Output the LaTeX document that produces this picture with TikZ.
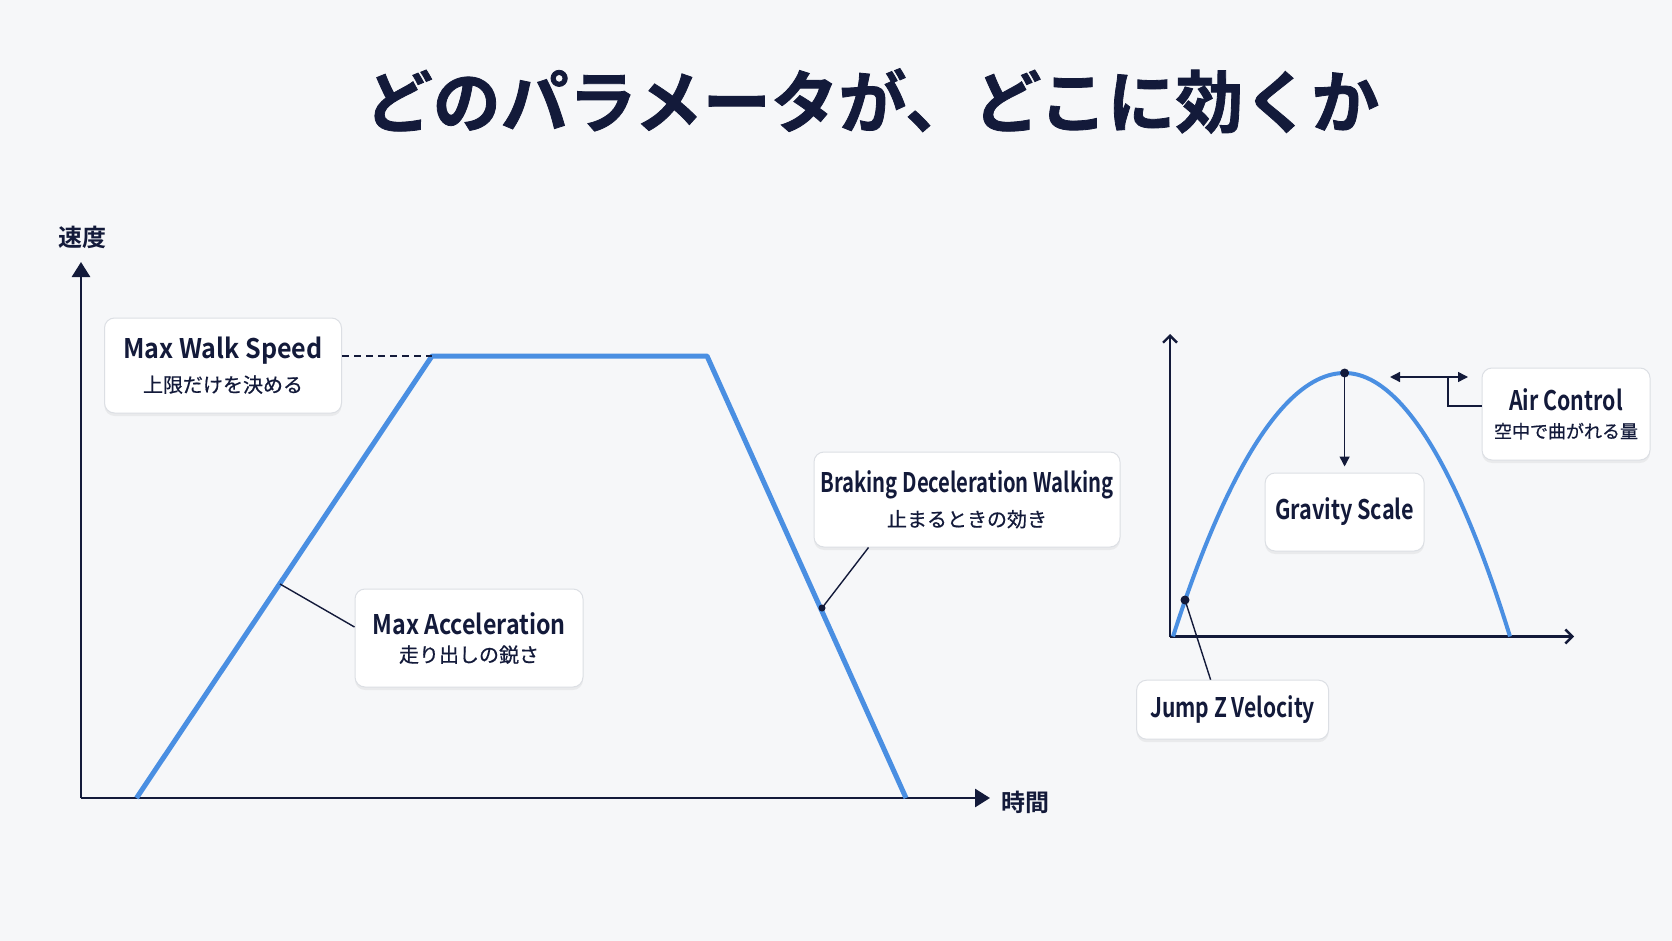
\documentclass[tikz,border=0pt]{standalone}
\usepackage{graphicx}
\usepackage{fontspec}
\setmainfont{Noto Sans CJK JP}[BoldFont={Noto Sans CJK JP Bold}]
\newfontfamily\jpmed{Noto Sans CJK JP}[FakeBold=0.6]
\newfontfamily\titlefont{Noto Sans CJK JP Bold}[FakeBold=1.2]
\usetikzlibrary{arrows.meta,shadows}
\definecolor{navy}{HTML}{131A3A}
\definecolor{bg}{HTML}{F6F7F9}
\definecolor{lineblue}{HTML}{4A8FE2}
\definecolor{boxborder}{HTML}{DCDFE4}
\tikzset{
  lbl/.style={draw=boxborder, line width=1pt, fill=white, rounded corners=10pt,
    drop shadow={opacity=0.10, shadow xshift=0pt, shadow yshift=-3pt},
    align=center, text=navy, inner sep=0pt},
  axisline/.style={draw=navy, line width=2.8pt},
  thinaxis/.style={draw=navy, line width=2.4pt, -{Straight Barb[length=7pt,width=14pt]}},
  conn/.style={draw=navy, line width=1.4pt},
  curve/.style={draw=lineblue, line width=5pt, line join=round},
}
\newcommand{\en}[2]{\scalebox{#1}[1]{\fontsize{27}{30}\selectfont\bfseries #2}}
\newcommand{\jp}[1]{\fontsize{20}{24}\selectfont\jpmed #1}
\newcommand{\jps}[1]{\fontsize{18}{22}\selectfont\jpmed #1}
\begin{document}
\begin{tikzpicture}[x=1pt,y=-1pt]
\fill[bg] (0,0) rectangle (1672,941);
\useasboundingbox (0,0) rectangle (1672,941);
% title
\node[text=navy, font=\fontsize{68}{80}\selectfont\titlefont] (title) at (872,101) {どのパラメータが、どこに効くか};
% left axes
\coordinate (O1) at (81,798);
\coordinate (Y1) at (81,262);
\coordinate (X1) at (990,798);
\draw[axisline, -{Triangle[width=18pt,length=15pt]}] (O1) -- (Y1);
\draw[axisline, -{Triangle[width=18pt,length=15pt]}] (O1) -- (X1);
\node[text=navy, font=\fontsize{24}{28}\selectfont\bfseries] (ylab) at (82,237) {速度};
\node[text=navy, font=\fontsize{24}{28}\selectfont\bfseries] (xlab) at (1025,802) {時間};
% trapezoid
\coordinate (A1) at (136.5,798);
\coordinate (A2) at (432,356);
\coordinate (A3) at (707,356);
\coordinate (A4) at (906,798);
\draw[curve] (A1) -- (A2) -- (A3) -- (A4);
% boxes
\node[lbl, minimum width=237pt, minimum height=95pt] (mws) at (223,365.5)
  {\en{0.93}{Max Walk Speed}\\[10pt]\jp{上限だけを決める}};
\node[lbl, minimum width=228pt, minimum height=98pt] (macc) at (469,638)
  {\en{0.86}{Max Acceleration}\\[10pt]\jp{走り出しの鋭さ}};
\node[lbl, minimum width=306pt, minimum height=95pt] (brk) at (967,499.5)
  {\en{0.75}{Braking Deceleration Walking}\\[10pt]\jp{止まるときの効き}};
% connectors left
\draw[conn, dash pattern=on 7pt off 5pt] (mws.east |- A2) -- (A2);
\coordinate (accpt) at (280,584);
\draw[conn] ([yshift=11pt]macc.west) -- (accpt);
\coordinate (brkdot) at (822,608);
\draw[conn] ([xshift=55pt]brk.south west) -- (brkdot);
\fill[navy] (brkdot) circle (3.5pt);
% right axes
\coordinate (O2) at (1170,636.5);
\coordinate (Y2) at (1170,334);
\coordinate (X2) at (1574,636.5);
\draw[thinaxis] (O2) -- (Y2);
\draw[thinaxis] (O2) -- (X2);
% parabola
\coordinate (P0) at (1173,636.5);
\coordinate (P1) at (1344.6,373);
\coordinate (P2) at (1510,636.5);
\draw[draw=lineblue, line width=4pt] (P0) parabola bend (P1) (P2);
\coordinate (jdot) at (1185,600);
% boxes right
\node[lbl, minimum width=159pt, minimum height=78pt] (grav) at (1344.6,512)
  {\en{0.80}{Gravity Scale}};
\node[lbl, minimum width=168pt, minimum height=92pt] (air) at (1566,414)
  {\en{0.79}{Air Control}\\[11pt]\jps{空中で曲がれる量}};
\node[lbl, minimum width=192pt, minimum height=59pt] (jz) at (1232.6,709.7)
  {\en{0.78}{Jump Z Velocity}};
% right connectors
\draw[conn, -{Triangle[width=10pt,length=10pt]}] (P1) -- ([yshift=6pt]grav.north);
\coordinate (acL) at (1390,377);
\coordinate (acR) at (1468,377);
\coordinate (acM) at (1448,377);
\draw[conn, {Triangle[width=10pt,length=10pt]}-{Triangle[width=10pt,length=10pt]}] (acL) -- (acR);
\draw[conn] ([yshift=8pt]air.west) -| (acM);
\draw[conn] (jdot) -- ([xshift=-22pt]jz.north);
\fill[navy] (P1) circle (4.5pt);
\fill[navy] (jdot) circle (4.5pt);
\end{tikzpicture}
\end{document}
